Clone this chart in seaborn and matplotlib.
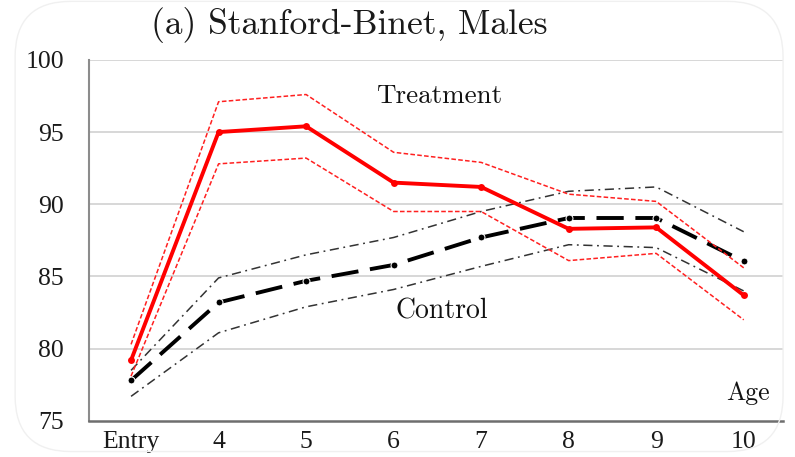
import numpy as np
import pandas as pd
import matplotlib
matplotlib.use("Agg")
import matplotlib.pyplot as plt
from matplotlib.patches import FancyBboxPatch
import seaborn as sns

ages = ["Entry", "4", "5", "6", "7", "8", "9", "10"]

treat_mean = [79.2, 95.0, 95.4, 91.5, 91.2, 88.3, 88.4, 83.7]
treat_upper = [80.3, 97.1, 97.6, 93.6, 92.9, 90.7, 90.2, 85.6]
treat_lower = [78.1, 92.8, 93.2, 89.5, 89.5, 86.1, 86.6, 82.0]

ctrl_mean = [77.8, 83.2, 84.7, 85.8, 87.7, 89.05, 89.05, 86.05]
ctrl_upper = [78.5, 84.9, 86.5, 87.7, 89.5, 90.9, 91.2, 88.1]
ctrl_lower = [76.7, 81.1, 82.9, 84.1, 85.7, 87.2, 87.0, 84.0]

y_ticks = [75, 80, 85, 90, 95, 100]

sns.set_style("white")
plt.rcParams["font.family"] = ["Liberation Serif", "DejaVu Serif"]

pos = np.arange(len(ages))
df = pd.DataFrame({"pos": pos,
                   "treat_mean": treat_mean, "treat_upper": treat_upper, "treat_lower": treat_lower,
                   "ctrl_mean": ctrl_mean, "ctrl_upper": ctrl_upper, "ctrl_lower": ctrl_lower})

fig = plt.figure(figsize=(7.95, 4.57), dpi=100)

# faint rounded frame around the panel
frame = FancyBboxPatch((0.019, 0.012), 0.966, 0.985, boxstyle="round,pad=0,rounding_size=0.07",
                       transform=fig.transFigure, fc="none", ec="#f0f0f0", lw=1.0,
                       mutation_aspect=795 / 457)
fig.patches.append(frame)

ax = fig.add_axes([0.112, 0.079, 0.873, 0.79])

for y in y_ticks[1:]:
    ax.axhline(y, color="#d4d4d4", lw=1.3, zorder=0)

# control confidence bands and mean
for col in ["ctrl_upper", "ctrl_lower"]:
    sns.lineplot(data=df, x="pos", y=col, ax=ax, color="#333333", lw=1.1,
                 linestyle=(0, (6, 3, 1.2, 3)), zorder=2)
sns.lineplot(data=df, x="pos", y="ctrl_mean", ax=ax, color="black", lw=2.8,
             linestyle=(0, (7, 3)), marker="o", markersize=5, zorder=3)

# treatment confidence bands and mean
for col in ["treat_upper", "treat_lower"]:
    sns.lineplot(data=df, x="pos", y=col, ax=ax, color="#ff2020", lw=1.1,
                 linestyle=(0, (3, 1.5)), zorder=4)
sns.lineplot(data=df, x="pos", y="treat_mean", ax=ax, color="#ff0000", lw=2.8,
             marker="o", markersize=5, markeredgewidth=0, zorder=5)

ax.set_xlim(-0.48, 7.45)
ax.set_ylim(75, 100)
ax.set_xticks(pos)
ax.set_xticklabels(ages)
ax.set_yticks(y_ticks)
ax.tick_params(axis="both", length=0, labelsize=18.5, colors="#1a1a1a")
ax.tick_params(axis="y", pad=18)
ax.tick_params(axis="x", pad=7)
ax.set_xlabel("")
ax.set_ylabel("")

for side in ["top", "right"]:
    ax.spines[side].set_visible(False)
ax.spines["left"].set_color("#8c8c8c")
ax.spines["left"].set_linewidth(1.5)
ax.spines["bottom"].set_color("#6e6e6e")
ax.spines["bottom"].set_linewidth(1.8)

cm = ["cmr10", "DejaVu Serif"]
ax.text(3.52, 97.5, "Treatment", family=cm, fontsize=19.5, ha="center", va="center", color="#111111")
ax.text(3.55, 82.6, "Control", family=cm, fontsize=20, ha="center", va="center", color="#111111")
ax.text(7.05, 76.9, "Age", family=cm, fontsize=18.5, ha="center", va="center", color="#111111")

fig.text(0.44, 0.945, "(a) Stanford-Binet, Males", family=cm, fontsize=25.5,
         ha="center", va="center", color="#1a1a1a")

fig.savefig("out.png", dpi=100)
